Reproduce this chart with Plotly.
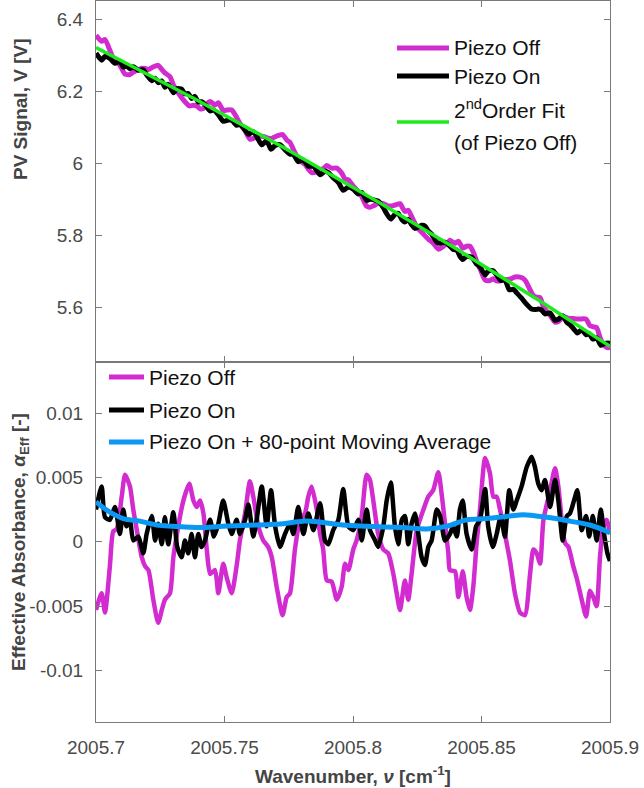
import numpy as np
import plotly.graph_objects as go
from plotly.subplots import make_subplots

NU0 = 2005.7
# Wavenumber offsets from 2005.7 in units of 1e-4 cm^-1, and absorbance in units of 1e-4
off_nu = [0, 22, 35, 54, 67, 81, 100, 113, 132, 145, 158, 178, 191, 204, 223, 242, 256, 268, 288, 301,
          320, 340, 363, 379, 392, 405, 418, 431, 444, 463, 476, 495, 509, 528, 547, 560, 580, 599, 612, 632,
          651, 670, 684, 703, 726, 742, 755, 774, 794, 813, 826, 839, 859, 872, 884, 898, 917, 937, 956, 969,
          982, 1001, 1014, 1034, 1053, 1066, 1079, 1098, 1118, 1137, 1157, 1170, 1183, 1202, 1215, 1228, 1248, 1274, 1293, 1312,
          1332, 1345, 1358, 1371, 1377, 1397, 1410, 1427, 1442, 1455, 1468, 1481, 1494, 1514, 1533, 1546, 1559, 1572, 1591, 1611,
          1630, 1650, 1669, 1689, 1702, 1715, 1728, 1741, 1767, 1786, 1799, 1812, 1825, 1838, 1857, 1870, 1890, 1907, 1922, 1935,
          1948, 1961, 1974, 1987, 2000]
off_alpha = [-53, -40, -55, -19, 8, 10, 35, 52, 43, 25, 10, -12, -19, -22, -45, -63, -53, -45, -40, -12,
             12, 32, 45, 32, 27, 32, 22, -6, -25, -22, -40, -17, -28, -40, -19, 1, 22, 47, 35, 12,
             1, -4, -12, -35, -57, -43, -40, -6, 17, 22, 35, 43, 25, 6, -6, -30, -31, -45, -35, -17,
             -22, -6, 1, 20, 52, 48, 32, 6, -6, -9, -25, -40, -53, -30, -45, -25, 9, 25, 35, 40,
             54, 37, 14, -9, -22, -23, -43, -23, -43, -53, -35, -1, 25, 65, 53, 35, 35, 25, 6, -15,
             -40, -55, -57, -25, -6, -9, -17, 17, 40, 57, 43, 17, -1, -4, -19, -28, -45, -58, -38, -43,
             -50, -12, 12, 17, 6]

on_nu = [0, 22, 35, 54, 74, 93, 106, 119, 132, 145, 165, 184, 197, 217, 230, 242, 256, 268, 281, 301,
         316, 333, 346, 359, 372, 385, 398, 411, 424, 444, 459, 476, 495, 515, 528, 547, 560, 580, 593, 612,
         625, 645, 664, 681, 697, 716, 735, 755, 768, 787, 807, 826, 846, 872, 891, 904, 923, 943, 962, 982,
         1001, 1021, 1034, 1053, 1066, 1086, 1098, 1118, 1131, 1147, 1163, 1176, 1190, 1202, 1215, 1228, 1241, 1254, 1267, 1280,
         1293, 1306, 1326, 1339, 1358, 1377, 1390, 1404, 1416, 1427, 1442, 1462, 1479, 1494, 1514, 1526, 1544, 1559, 1575, 1591,
         1608, 1624, 1637, 1656, 1676, 1695, 1708, 1721, 1734, 1747, 1767, 1786, 1799, 1816, 1832, 1844, 1860, 1873, 1890, 1907,
         1919, 1933, 1948, 1964, 1977, 1990, 2000]
on_alpha = [25, 43, 19, 17, 27, 6, 25, 12, 17, 1, 4, -9, 6, 20, 1, 14, -2, 19, -2, 23,
            -4, -12, 1, -9, 6, -12, 6, -4, 1, 17, 4, 14, 32, 14, 6, 17, 6, 17, 29, 4,
            17, 43, 12, 40, 12, -4, 6, 14, 6, 27, 6, 22, 9, 30, 1, -2, 9, 17, 41, 12,
            9, 17, 1, 25, 9, 1, -4, 12, 32, 46, 12, -2, 17, 20, -2, 14, 22, 6, -12, -18,
            -4, 1, 25, 20, 1, 6, 12, 4, 25, 32, 6, -6, 12, 17, 41, 12, -4, 6, 20, 4,
            40, 25, 32, 43, 58, 66, 58, 45, 40, 48, 27, 48, 32, 1, 20, 22, 32, 40, 9, 20,
            4, 20, 1, 25, 6, -9, -15]

avg_nu = [0, 54, 106, 171, 236, 301, 405, 495, 625, 728, 805, 883, 961, 1053, 1196, 1287, 1365, 1442,
          1520, 1611, 1663, 1754, 1844, 1922, 2000]
avg_alpha = [31, 23, 18, 16, 13, 12, 11, 12, 13, 14, 16, 15, 13, 12, 11, 10, 12, 17,
             18, 20, 21, 19, 16, 13, 7]

# Green 2nd-order fit line read at three wavenumbers
fit_nu = [2005.70, 2005.8066, 2005.90]
fit_v = [6.321, 5.906, 5.492]

x_ticks = [2005.7, 2005.75, 2005.8, 2005.85, 2005.9]
x_ticktext = ["2005.7", "2005.75", "2005.8", "2005.85", "2005.9"]
v_ticks = [5.6, 5.8, 6.0, 6.2, 6.4]
v_ticktext = ["5.6", "5.8", "6", "6.2", "6.4"]
a_ticks = [-0.01, -0.005, 0, 0.005, 0.01]
a_ticktext = ["-0.01", "-0.005", "0", "0.005", "0.01"]

C_OFF = "#D22CD0"
C_ON = "#000000"
C_FIT = "#1FEA1F"
C_AVG = "#0A98F2"

# ---- derived series ----
x_off = NU0 + np.array(off_nu) * 1e-4
x_on = NU0 + np.array(on_nu) * 1e-4
x_avg = NU0 + np.array(avg_nu) * 1e-4
a_off = np.array(off_alpha) * 1e-4
a_on = np.array(on_alpha) * 1e-4
a_avg = np.array(avg_alpha) * 1e-4

coef = np.polyfit(np.array(fit_nu) - NU0, fit_v, 2)
fit_fn = np.poly1d(coef)
x_fit = np.linspace(2005.7, 2005.9, 201)
v_fit = fit_fn(x_fit - NU0)
v_off = fit_fn(x_off - NU0) * np.exp(-a_off)
v_on = fit_fn(x_on - NU0) * np.exp(-a_on)

fig = make_subplots(rows=2, cols=1, shared_xaxes=True, vertical_spacing=0)

sm = 0.6
fig.add_trace(go.Scatter(x=x_off, y=v_off, mode="lines", line=dict(color=C_OFF, width=5, shape="spline", smoothing=sm),
                         showlegend=False), row=1, col=1)
fig.add_trace(go.Scatter(x=x_on, y=v_on, mode="lines", line=dict(color=C_ON, width=5, shape="spline", smoothing=sm),
                         showlegend=False), row=1, col=1)
fig.add_trace(go.Scatter(x=x_fit, y=v_fit, mode="lines", line=dict(color=C_FIT, width=3.5),
                         showlegend=False), row=1, col=1)

fig.add_trace(go.Scatter(x=x_off, y=a_off, mode="lines", line=dict(color=C_OFF, width=4.5, shape="spline", smoothing=sm),
                         showlegend=False), row=2, col=1)
fig.add_trace(go.Scatter(x=x_on, y=a_on, mode="lines", line=dict(color=C_ON, width=4.5, shape="spline", smoothing=sm),
                         showlegend=False), row=2, col=1)
fig.add_trace(go.Scatter(x=x_avg, y=a_avg, mode="lines", line=dict(color=C_AVG, width=5, shape="spline", smoothing=1.0),
                         showlegend=False), row=2, col=1)

AX = "#7a7a7a"
TICKF = dict(family="Liberation Sans, Arial, sans-serif", size=19, color="#4a4a4a")
common = dict(showline=True, linecolor=AX, linewidth=1, mirror="ticks", ticks="inside", ticklen=6,
              tickcolor=AX, tickwidth=1, showgrid=False, zeroline=False, tickfont=TICKF)

fig.update_xaxes(range=[2005.7, 2005.9], tickvals=x_ticks, ticktext=x_ticktext, **common)
fig.update_xaxes(showticklabels=False, row=1, col=1)
fig.update_xaxes(ticklabelstandoff=8, row=2, col=1)
fig.update_yaxes(range=[5.45, 6.45], tickvals=v_ticks, ticktext=v_ticktext, ticklabelstandoff=8, row=1, col=1, **common)
fig.update_yaxes(range=[-0.014, 0.014], tickvals=a_ticks, ticktext=a_ticktext, ticklabelstandoff=8, row=2, col=1, **common)

W, H = 644, 788
L, R, T, B = 96, 610, 1, 722


def px(xp):
    return (xp - L) / (R - L)


def py(yp):
    return (B - yp) / (B - T)


TITLEF = dict(family="Liberation Sans, Arial, sans-serif", size=19, color="#444444")
LEGF = dict(family="Liberation Sans, Arial, sans-serif", size=21, color="#111111")

ann = []
ann.append(dict(text="<b>Wavenumber, <i>ν</i> [cm<sup>-1</sup>]</b>", x=px(353), y=py(775), xref="paper", yref="paper",
                xanchor="center", yanchor="middle", showarrow=False, font=TITLEF))
ann.append(dict(text="<b>PV Signal, V [V]</b>", x=px(20), y=py(110), xref="paper", yref="paper", textangle=-90,
                xanchor="center", yanchor="middle", showarrow=False, font=TITLEF))
ann.append(dict(text="<b>Effective Absorbance, <i>α</i><sub>Eff</sub> [-]</b>", x=px(20), y=py(542), xref="paper",
                yref="paper", textangle=-90, xanchor="center", yanchor="middle", showarrow=False, font=TITLEF))

shapes = []


def leg_line(x0, x1, yp, color, width):
    shapes.append(dict(type="line", xref="paper", yref="paper", x0=px(x0), x1=px(x1), y0=py(yp), y1=py(yp),
                       line=dict(color=color, width=width)))


def leg_text(xp, yp, text):
    ann.append(dict(text=text, x=px(xp), y=py(yp), xref="paper", yref="paper", xanchor="left", yanchor="middle",
                    showarrow=False, font=LEGF))


# top legend
leg_line(397, 449, 48, C_OFF, 5)
leg_line(397, 449, 76, C_ON, 5)
leg_line(397, 449, 122, C_FIT, 3.5)
leg_text(452, 48, "Piezo Off")
leg_text(452, 77, "Piezo On")
leg_text(452, 109, "2<sup>nd</sup>Order Fit")
leg_text(452, 142, "(of Piezo Off)")

# bottom legend
leg_line(109, 144, 377, C_OFF, 5)
leg_line(109, 144, 410, C_ON, 5)
leg_line(109, 144, 442, C_AVG, 5)
leg_text(147, 377, "Piezo Off")
leg_text(147, 410, "Piezo On")
leg_text(147, 442, "Piezo On + 80-point Moving Average")

fig.update_layout(width=W, height=H, margin=dict(l=L, r=W - R, t=T, b=H - B), plot_bgcolor="white",
                  paper_bgcolor="white", annotations=ann, shapes=shapes, showlegend=False)

fig.write_html("out.html")
